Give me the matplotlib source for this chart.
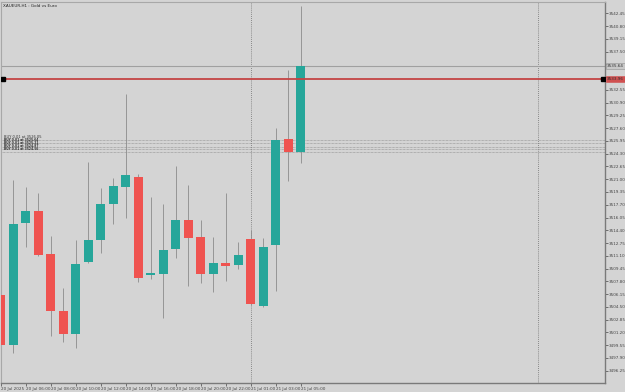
import matplotlib.pyplot as plt
import matplotlib.transforms as mtransforms

# H1 bars
opens  = [3506.03, 3499.57, 3515.30, 3516.93, 3511.30, 3504.01, 3500.95, 3510.26, 3513.10, 3517.76,
          3520.03, 3521.33, 3508.62, 3508.71, 3511.98, 3515.69, 3513.49, 3508.75, 3510.21, 3509.95,
          3513.27, 3504.65, 3512.54, 3526.20, 3524.48]
highs  = [3506.29, 3520.90, 3520.03, 3519.26, 3513.66, 3506.98, 3513.14, 3523.27, 3519.83, 3521.12,
          3532.02, 3521.64, 3518.66, 3517.76, 3522.71, 3520.25, 3515.73, 3513.49, 3519.18, 3512.85,
          3514.44, 3513.36, 3527.66, 3535.12, 3543.43]
lows   = [3499.31, 3498.54, 3512.20, 3511.08, 3500.77, 3500.00, 3499.14, 3510.16, 3511.43, 3515.21,
          3516.03, 3507.75, 3508.06, 3503.06, 3510.86, 3507.24, 3507.55, 3506.46, 3507.88, 3509.36,
          3504.74, 3504.52, 3506.59, 3520.77, 3523.06]
closes = [3499.57, 3515.17, 3516.93, 3511.25, 3503.97, 3500.99, 3510.04, 3513.10, 3517.80, 3520.12,
          3521.55, 3508.27, 3508.92, 3511.85, 3515.69, 3513.44, 3508.71, 3510.21, 3509.78, 3511.17,
          3504.87, 3512.24, 3526.07, 3524.48, 3535.64]

time_labels = ['20 Jul 2025', '20 Jul 06:00', '20 Jul 08:00', '20 Jul 10:00', '20 Jul 12:00',
               '20 Jul 14:00', '20 Jul 16:00', '20 Jul 18:00', '20 Jul 20:00', '20 Jul 22:00',
               '21 Jul 01:00', '21 Jul 03:00', '21 Jul 05:00']
day_separators = [20, 43]

price_ticks = [round(3496.25 + 1.65 * k, 2) for k in range(29)]
bid_price = 3535.64
hline_price = 3533.96
order_prices = [3526.05, 3525.64, 3525.21, 3524.87, 3524.56]

BG = '#d4d4d4'
UP = '#26a69a'
DOWN = '#ef5350'

fig = plt.figure(figsize=(6.25, 3.92), dpi=100, facecolor=BG)
ax = fig.add_axes([1 / 625, 9 / 392, 604 / 625, 381 / 392], facecolor=BG)
trans = mtransforms.blended_transform_factory(ax.transAxes, ax.transData)

n = len(opens)
for i in range(n):
    o, h, l, c = opens[i], highs[i], lows[i], closes[i]
    col = UP if c >= o else DOWN
    ax.vlines(i, l, h, color='#8c8c8c', lw=0.6, zorder=2)
    ax.bar(i, abs(c - o), bottom=min(o, c), width=0.72, color=col, zorder=3)

# open orders (dotted), labels stacked on the left like the terminal does
for p in order_prices:
    ax.axhline(p, color='#8a8a8a', lw=0.5, ls=(0, (1, 1)), zorder=1)
first = order_prices[0]
ax.text(0.005, first + 0.2, f'BUY 0.01 at {first:.2f}', transform=trans,
        fontsize=2.6, color='#333333', va='bottom', ha='left')
ax.text(0.005, order_prices[-1] + 0.05,
        '\n'.join(f'BUY 0.01 at {p:.2f}' for p in order_prices[1:]), transform=trans,
        fontsize=2.2, color='#333333', va='bottom', ha='left', linespacing=0.75,
        fontweight='bold')

# day separators
for s in day_separators:
    ax.axvline(s, color='#707070', lw=0.6, ls=(0, (1, 1.5)), zorder=1)

ax.axhline(bid_price, color='#a0a0a0', lw=0.8, zorder=1)
ax.axhline(hline_price, color='#c44444', lw=1.3, zorder=4)
ax.plot([0.004, 0.996], [hline_price, hline_price], 's', ms=3, color='black', transform=trans, zorder=5)

ax.text(1.003, bid_price, f'{bid_price:.2f}', transform=trans, fontsize=3, va='center', ha='left',
        color='#333333', clip_on=False, zorder=10,
        bbox=dict(boxstyle='square,pad=0.2', fc='#c8c8c8', ec='#909090', lw=0.4))
ax.text(1.003, hline_price, f'{hline_price:.2f}', transform=trans, fontsize=3, va='center', ha='left',
        color='#333333', clip_on=False, zorder=10,
        bbox=dict(boxstyle='square,pad=0.2', fc='#d05050', ec='#d05050', lw=0.4))

ax.text(0.003, 0.995, 'XAUEUR,H1 : Gold vs Euro', transform=ax.transAxes, fontsize=3, va='top',
        ha='left', color='#222222')

ax.set_xlim(0.016, 48.39)
ax.set_ylim(3494.66, 3543.91)

ax.yaxis.tick_right()
ax.set_yticks(price_ticks)
ax.set_yticklabels(['' if abs(p - bid_price) < 0.9 or abs(p - hline_price) < 0.9 else f'{p:.2f}'
                    for p in price_ticks])
ax.tick_params(axis='y', length=2, width=0.5, pad=1, labelsize=3, colors='#444444')

ax.set_xticks(list(range(0, n, 2)))
ax.set_xticklabels(time_labels, ha='left')
ax.tick_params(axis='x', length=2, width=0.5, pad=1, labelsize=3, colors='#444444')

for side in ['left', 'top']:
    ax.spines[side].set_color('#a8a8a8')
    ax.spines[side].set_linewidth(0.8)
for side in ['right', 'bottom']:
    ax.spines[side].set_color('#7a7a7a')
    ax.spines[side].set_linewidth(1.0)

fig.savefig('out.png', dpi=100, facecolor=BG)
